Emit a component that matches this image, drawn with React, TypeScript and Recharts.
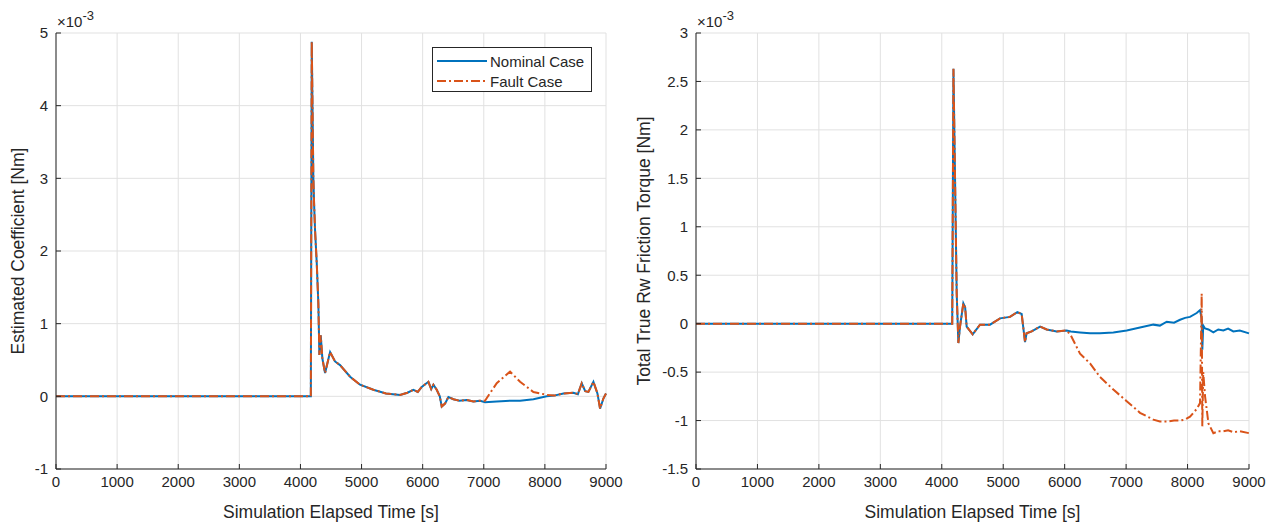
import { LineChart, Line, XAxis, YAxis, CartesianGrid, Legend, Label } from "recharts"

const BLUE = "#0072BD"
const ORANGE = "#D95319"
const AXIS = "#262626"
const GRID = "#e1e1e1"
const FONT = "'Liberation Sans', Arial, Helvetica, sans-serif"
const FAULT_DASH = "9 3 2 3"

// shared x axis (simulation time, s)
const timeTicks = [0, 1000, 2000, 3000, 4000, 5000, 6000, 7000, 8000, 9000]

// left plot: estimated coefficient, in units of 1e-3 Nm
const leftTime = [
  0, 4170, 4185, 4211, 4223, 4239, 4267, 4293, 4310, 4332, 4359, 4403, 4485, 4566, 4648, 4812, 4975, 5193, 5400,
  5630, 5750, 5848, 5920, 5985, 6094, 6140, 6176, 6230, 6280, 6312, 6366, 6421, 6503, 6600, 6721, 6830, 6940, 7020,
  7212, 7430, 7594, 7812, 8030, 8150, 8303, 8467, 8540, 8603, 8660, 8712, 8794, 8860, 8903, 8957, 9000,
]
const leftNominal = [
  0, 0, 4.88, 3.02, 2.66, 2.29, 1.83, 1.28, 0.57, 0.84, 0.52, 0.32, 0.61, 0.48, 0.43, 0.27, 0.16, 0.09, 0.04, 0.02,
  0.05, 0.09, 0.06, 0.13, 0.2, 0.1, 0.16, 0.09, 0.0, -0.14, -0.1, -0.01, -0.04, -0.06, -0.05, -0.07, -0.06, -0.08,
  -0.07, -0.06, -0.06, -0.04, 0.0, 0.01, 0.04, 0.05, 0.03, 0.18, 0.07, 0.06, 0.2, 0.04, -0.17, -0.03, 0.04,
]
const leftFault = [
  0, 0, 4.88, 3.02, 2.66, 2.29, 1.83, 1.28, 0.57, 0.84, 0.52, 0.32, 0.61, 0.48, 0.43, 0.27, 0.16, 0.09, 0.04, 0.02,
  0.05, 0.09, 0.06, 0.13, 0.2, 0.1, 0.16, 0.09, 0.0, -0.14, -0.1, -0.01, -0.04, -0.06, -0.05, -0.07, -0.06, -0.06,
  0.18, 0.34, 0.2, 0.06, 0.02, 0.01, 0.04, 0.05, 0.03, 0.18, 0.07, 0.06, 0.2, 0.04, -0.17, -0.03, 0.04,
]
const leftTicks = [-1, 0, 1, 2, 3, 4, 5]

// right plot: total true RW friction torque, in units of 1e-3 Nm
const rightTime = [
  0, 4170, 4190, 4243, 4270, 4297, 4351, 4380, 4405, 4503, 4622, 4785, 4948, 5110, 5230, 5300, 5355, 5380, 5463,
  5600, 5707, 5870, 6033, 6100, 6250, 6413, 6575, 6792, 7010, 7226, 7443, 7550, 7661, 7780, 7878, 7960, 8040, 8149,
  8203, 8230, 8240, 8255, 8285, 8340, 8420, 8500, 8583, 8660, 8745, 8850, 9000,
]
const rightNominal = [
  0, 0, 2.63, 0.31, -0.2, -0.03, 0.21, 0.17, -0.03, -0.11, -0.01, -0.01, 0.055, 0.07, 0.12, 0.1, -0.19, -0.1, -0.08,
  -0.03, -0.06, -0.08, -0.07, -0.08, -0.09, -0.1, -0.1, -0.09, -0.07, -0.04, -0.01, -0.02, 0.02, 0.01, 0.04, 0.06,
  0.07, 0.11, 0.14, 0.05, -0.27, -0.02, -0.05, -0.06, -0.09, -0.06, -0.07, -0.05, -0.08, -0.07, -0.1,
]
const rightFault = [
  0, 0, 2.63, 0.31, -0.2, -0.03, 0.21, 0.17, -0.03, -0.11, -0.01, -0.01, 0.055, 0.07, 0.12, 0.1, -0.19, -0.1, -0.08,
  -0.03, -0.06, -0.08, -0.07, -0.12, -0.31, -0.41, -0.55, -0.68, -0.8, -0.92, -0.99, -1.01, -1.01, -1.0, -1.0,
  -0.99, -0.96, -0.88, -0.82, 0.31, -1.06, -0.5, -0.75, -1.03, -1.13, -1.11, -1.11, -1.1, -1.12, -1.11, -1.13,
]
const rightTicks = [-1.5, -1, -0.5, 0, 0.5, 1, 1.5, 2, 2.5, 3]

const legendItems = [
  { name: "Nominal Case", color: BLUE, dash: undefined },
  { name: "Fault Case", color: ORANGE, dash: FAULT_DASH },
]

const tickStyle = { fill: AXIS, fontSize: 15, fontFamily: FONT }
const blank = () => ""

// MATLAB style legend box
const MatlabLegend = () => (
  <div
    style={{
      boxSizing: "border-box",
      width: 160,
      height: 45,
      border: `1px solid ${AXIS}`,
      background: "#fff",
      padding: "3px 4px",
      fontFamily: FONT,
      fontSize: 15,
      color: AXIS,
    }}
  >
    {legendItems.map((item) => (
      <div key={item.name} style={{ display: "flex", alignItems: "center", height: 20 }}>
        <svg width={50} height={4}>
          <line x1={0} x2={50} y1={2} y2={2} stroke={item.color} strokeWidth={2} strokeDasharray={item.dash} />
        </svg>
        <span style={{ marginLeft: 3 }}>{item.name}</span>
      </div>
    ))}
  </div>
)

const XLabel = ({ viewBox }: any) => (
  <text
    x={viewBox.x + viewBox.width / 2}
    y={viewBox.y + 43}
    textAnchor="middle"
    dominantBaseline="central"
    fill={AXIS}
    fontSize={17.5}
    fontFamily={FONT}
  >
    Simulation Elapsed Time [s]
  </text>
)

function Panel({ left, width, axisWidth, rightMargin, labelX, yLabel, yDomain, yTicks, data, showLegend }: any) {
  // y axis title plus the x10^-3 exponent above the box
  const YLabel = ({ viewBox }: any) => {
    const cx = viewBox.x + labelX
    const cy = viewBox.y + viewBox.height / 2
    return (
      <g fontFamily={FONT} fill={AXIS}>
        <text x={cx} y={cy} transform={`rotate(-90 ${cx} ${cy})`} textAnchor="middle" dominantBaseline="central" fontSize={17.5}>
          {yLabel}
        </text>
        <text x={viewBox.x + viewBox.width + 1} y={viewBox.y - 6} fontSize={15}>
          ×10
          <tspan dy={-7} fontSize={13}>
            -3
          </tspan>
        </text>
      </g>
    )
  }

  return (
    <div style={{ position: "absolute", left, top: 0 }}>
      <LineChart width={width} height={524} data={data} margin={{ top: 33, right: rightMargin, bottom: 0, left: 0 }}>
        <CartesianGrid stroke={GRID} strokeWidth={1} />
        <XAxis
          dataKey="t"
          type="number"
          domain={[0, 9000]}
          ticks={timeTicks}
          interval={0}
          height={55}
          stroke={AXIS}
          tick={tickStyle}
          tickSize={-5}
          tickMargin={12}
        >
          <Label content={XLabel} />
        </XAxis>
        <XAxis
          xAxisId="top"
          orientation="top"
          dataKey="t"
          type="number"
          domain={[0, 9000]}
          ticks={timeTicks}
          interval={0}
          height={0}
          stroke={AXIS}
          tickSize={-5}
          tickFormatter={blank}
        />
        <YAxis
          type="number"
          domain={yDomain}
          ticks={yTicks}
          interval={0}
          width={axisWidth}
          stroke={AXIS}
          tick={tickStyle}
          tickSize={-5}
          tickMargin={13}
        >
          <Label content={YLabel} />
        </YAxis>
        <YAxis
          yAxisId="right"
          orientation="right"
          type="number"
          domain={yDomain}
          ticks={yTicks}
          interval={0}
          width={0}
          stroke={AXIS}
          tickSize={-5}
          tickFormatter={blank}
        />
        <Line
          type="linear"
          dataKey="nominal"
          name="Nominal Case"
          stroke={BLUE}
          strokeWidth={2}
          dot={false}
          isAnimationActive={false}
        />
        <Line
          type="linear"
          dataKey="fault"
          name="Fault Case"
          stroke={ORANGE}
          strokeWidth={2}
          strokeDasharray={FAULT_DASH}
          dot={false}
          isAnimationActive={false}
        />
        {showLegend && (
          <Legend
            layout="horizontal"
            verticalAlign="middle"
            align="center"
            content={<MatlabLegend />}
            wrapperStyle={{ left: 432, top: 47, width: 160, height: 45 }}
          />
        )}
      </LineChart>
    </div>
  )
}

export default function App() {
  const leftData = leftTime.map((t, i) => ({ t, nominal: leftNominal[i], fault: leftFault[i] }))
  const rightData = rightTime.map((t, i) => ({ t, nominal: rightNominal[i], fault: rightFault[i] }))

  return (
    <div style={{ position: "absolute", left: 0, top: 0, width: 1277, height: 524, background: "#fff", fontFamily: FONT }}>
      <Panel
        left={0}
        width={640}
        axisWidth={56}
        rightMargin={34}
        labelX={18}
        yLabel="Estimated Coefficient [Nm]"
        yDomain={[-1, 5]}
        yTicks={leftTicks}
        data={leftData}
        showLegend
      />
      <Panel
        left={620}
        width={657}
        axisWidth={76}
        rightMargin={28}
        labelX={23.5}
        yLabel="Total True Rw Friction Torque [Nm]"
        yDomain={[-1.5, 3]}
        yTicks={rightTicks}
        data={rightData}
        showLegend={false}
      />
    </div>
  )
}
